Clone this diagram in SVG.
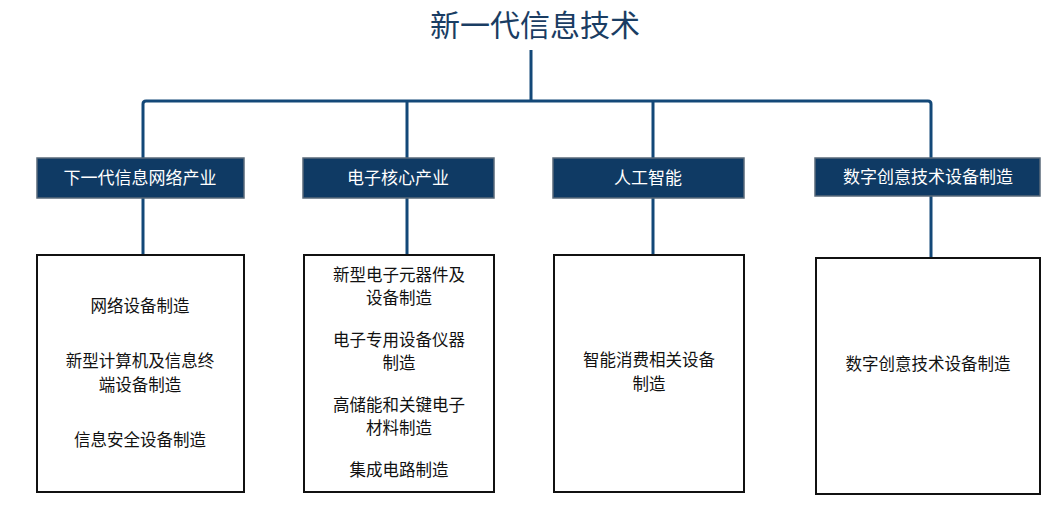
<svg xmlns="http://www.w3.org/2000/svg" width="1062" height="518" viewBox="0 0 1062 518">
<style>
text{font-family:"Noto Sans CJK SC","Noto Sans",sans-serif;text-anchor:middle}
.h rect{fill:#0f3a64;stroke:#5a6a7a;stroke-width:1.5}
.h text{fill:#fff;font-size:17px}
.b rect{fill:#fff;stroke:#111;stroke-width:2}
.b text{fill:#111;font-size:16.5px}
#connectors path{fill:none;stroke:#134878;stroke-width:3}
</style>
<rect width="1062" height="518" fill="#fff"/>
<text x="535" y="36" font-size="30" fill="#1a3d63">新一代信息技术</text>
<g id="connectors">
<path d="M531 50V101M143 158V104Q143 101 146 101H928Q931 101 931 104V158M407 101V158M653 101V158"/>
<path d="M143 198V255M407 198V255M653 198V255M931 196V258"/>
</g>
<g id="h1" class="h"><rect x="37" y="158" width="207" height="40"/><text x="140" y="184">下一代信息网络产业</text></g>
<g id="h2" class="h"><rect x="303" y="158" width="191" height="40"/><text x="398" y="184">电子核心产业</text></g>
<g id="h3" class="h"><rect x="553" y="158" width="191" height="40"/><text x="648" y="184">人工智能</text></g>
<g id="h4" class="h"><rect x="815" y="158" width="225" height="38"/><text x="928" y="183">数字创意技术设备制造</text></g>
<g id="b1" class="b"><rect x="37" y="255" width="207" height="237"/>
<text x="140" y="312">网络设备制造</text><text x="140" y="367">新型计算机及信息终</text><text x="140" y="391">端设备制造</text><text x="140" y="446">信息安全设备制造</text></g>
<g id="b2" class="b"><rect x="304" y="255" width="190" height="237"/>
<text x="399" y="281">新型电子元器件及</text><text x="399" y="304">设备制造</text><text x="399" y="346">电子专用设备仪器</text><text x="399" y="369">制造</text><text x="399" y="411">高储能和关键电子</text><text x="399" y="434">材料制造</text><text x="399" y="476">集成电路制造</text></g>
<g id="b3" class="b"><rect x="554" y="255" width="190" height="237"/>
<text x="649" y="366">智能消费相关设备</text><text x="649" y="390">制造</text></g>
<g id="b4" class="b"><rect x="816" y="258" width="224" height="236"/>
<text x="928" y="370">数字创意技术设备制造</text></g>
</svg>
